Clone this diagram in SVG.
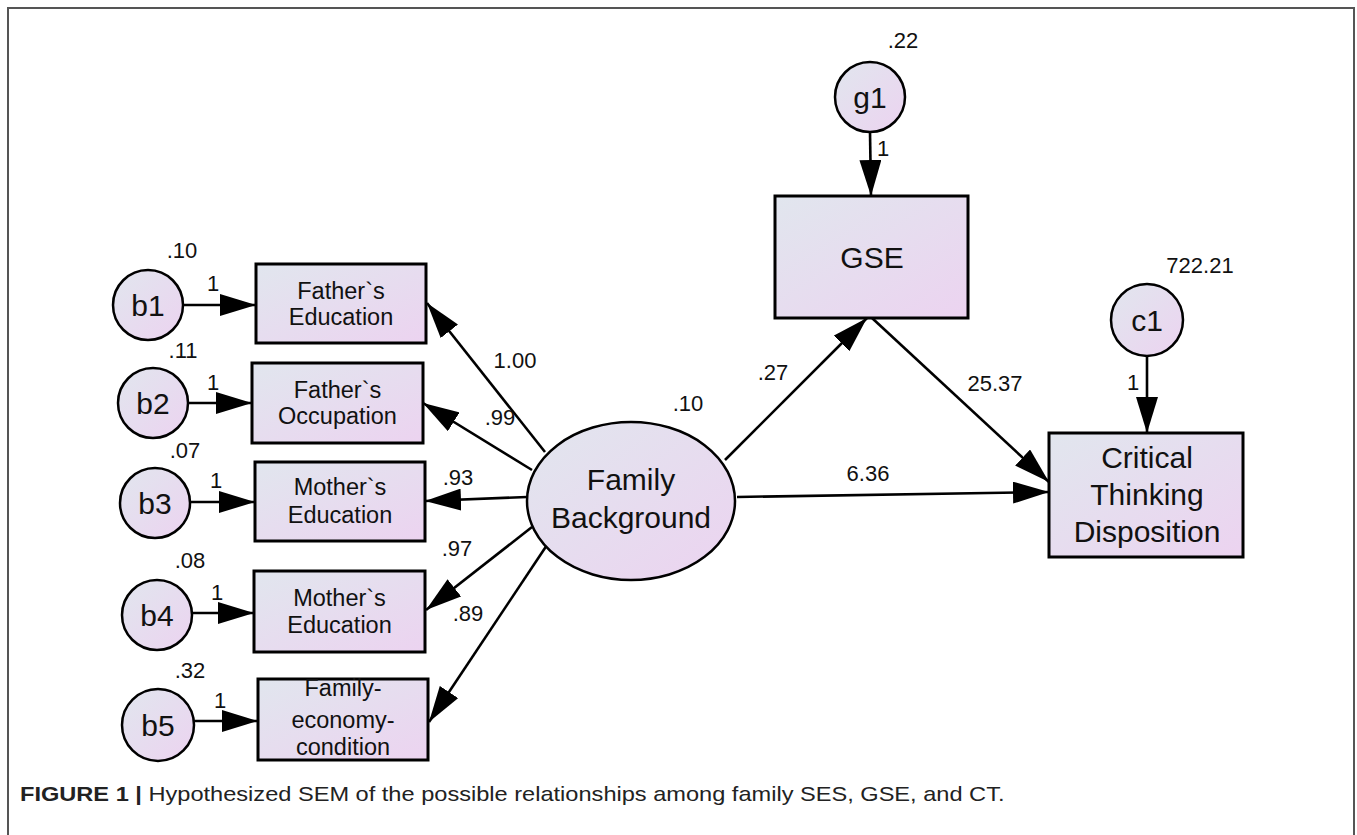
<svg xmlns="http://www.w3.org/2000/svg" width="1357" height="835" viewBox="0 0 1357 835">
<defs>
<linearGradient id="fillg" x1="0" y1="0" x2="1" y2="1">
<stop offset="0" stop-color="#e1e6ee"/>
<stop offset="1" stop-color="#ecd3f0"/>
</linearGradient>
<marker id="arr" markerUnits="userSpaceOnUse" markerWidth="37" markerHeight="22" refX="36" refY="11" orient="auto" viewBox="0 0 37 22">
<path d="M0,0 L36,11 L0,22 Z" fill="#000"/>
</marker>
<style>
.box{fill:url(#fillg);stroke:#000;stroke-width:3}
.circ{fill:url(#fillg);stroke:#000;stroke-width:2.5}
.lbl{font-family:"Liberation Sans",Arial,sans-serif;fill:#111;text-anchor:middle}
.small{font-size:23.5px}
.big{font-size:30px}
.cl{font-size:30px}
.num{font-family:"Liberation Sans",Arial,sans-serif;font-size:22px;fill:#111;text-anchor:middle}
.edge{stroke:#000;stroke-width:2.6;fill:none;marker-end:url(#arr)}
.cap{font-family:"Liberation Sans",Arial,sans-serif;font-size:20px;fill:#222}
</style>
</defs>
<rect width="1357" height="835" fill="#fff"/>
<path d="M8,835 V8 H1354 V835" fill="none" stroke="#555" stroke-width="2"/>

<g id="connectors">
<line class="edge" x1="183" y1="305" x2="256" y2="305"/>
<line class="edge" x1="188" y1="403" x2="252" y2="403"/>
<line class="edge" x1="190" y1="502" x2="255" y2="502"/>
<line class="edge" x1="192" y1="613" x2="254" y2="613"/>
<line class="edge" x1="194" y1="721" x2="258" y2="721"/>
<line class="edge" x1="545" y1="452" x2="427" y2="303"/>
<line class="edge" x1="532" y1="470" x2="423" y2="403"/>
<line class="edge" x1="527" y1="497" x2="425" y2="501"/>
<line class="edge" x1="532" y1="527" x2="426" y2="610"/>
<line class="edge" x1="547" y1="545" x2="429" y2="722"/>
<line class="edge" x1="725" y1="460" x2="867" y2="318"/>
<line class="edge" x1="872" y1="318" x2="1049" y2="482"/>
<line class="edge" x1="737" y1="497" x2="1049" y2="492"/>
<line class="edge" x1="870" y1="132" x2="871" y2="196"/>
<line class="edge" x1="1147" y1="356" x2="1147" y2="433"/>
</g>

<g id="b1"><circle class="circ" cx="148" cy="305" r="35"/><text class="lbl cl" x="148" y="316">b1</text></g>
<g id="b2"><circle class="circ" cx="153" cy="403" r="35"/><text class="lbl cl" x="153" y="414">b2</text></g>
<g id="b3"><circle class="circ" cx="155" cy="503" r="35"/><text class="lbl cl" x="155" y="514">b3</text></g>
<g id="b4"><circle class="circ" cx="157" cy="615" r="35"/><text class="lbl cl" x="157" y="626">b4</text></g>
<g id="b5"><circle class="circ" cx="158" cy="725" r="36"/><text class="lbl cl" x="158" y="736">b5</text></g>

<g id="fathers-education"><rect class="box" x="256" y="264" width="170" height="79"/>
<text class="lbl small" x="341" y="299">Father`s</text><text class="lbl small" x="341" y="325">Education</text></g>
<g id="fathers-occupation"><rect class="box" x="252" y="363" width="171" height="80"/>
<text class="lbl small" x="337.5" y="398">Father`s</text><text class="lbl small" x="337.5" y="424">Occupation</text></g>
<g id="mothers-education-1"><rect class="box" x="255" y="462" width="170" height="79"/>
<text class="lbl small" x="340" y="495">Mother`s</text><text class="lbl small" x="340" y="523">Education</text></g>
<g id="mothers-education-2"><rect class="box" x="254" y="571" width="171" height="81"/>
<text class="lbl small" x="339.5" y="606">Mother`s</text><text class="lbl small" x="339.5" y="633">Education</text></g>
<g id="family-economy"><rect class="box" x="258" y="679" width="170" height="81"/>
<text class="lbl small" x="343" y="696">Family-</text><text class="lbl small" x="343" y="728">economy-</text><text class="lbl small" x="343" y="755">condition</text></g>

<g id="family-background"><ellipse class="circ" cx="631" cy="501" rx="104" ry="79"/>
<text class="lbl big" x="631" y="490">Family</text><text class="lbl big" x="631" y="528">Background</text></g>

<g id="g1"><circle class="circ" cx="870" cy="97" r="35"/><text class="lbl cl" x="870" y="108">g1</text></g>
<g id="gse"><rect class="box" x="775" y="196" width="193" height="122"/><text class="lbl big" x="872" y="268">GSE</text></g>

<g id="c1"><circle class="circ" cx="1147" cy="320" r="36"/><text class="lbl cl" x="1147" y="331">c1</text></g>
<g id="ctd"><rect class="box" x="1049" y="433" width="194" height="124"/>
<text class="lbl big" x="1147" y="468">Critical</text><text class="lbl big" x="1147" y="505">Thinking</text><text class="lbl big" x="1147" y="542">Disposition</text></g>

<g id="labels">
<text class="num" x="182" y="258">.10</text>
<text class="num" x="183" y="358">.11</text>
<text class="num" x="185" y="458">.07</text>
<text class="num" x="190" y="568">.08</text>
<text class="num" x="190" y="678">.32</text>
<text class="num" x="213" y="291">1</text>
<text class="num" x="213" y="390">1</text>
<text class="num" x="216" y="488">1</text>
<text class="num" x="217" y="600">1</text>
<text class="num" x="220" y="708">1</text>
<text class="num" x="515" y="368">1.00</text>
<text class="num" x="500" y="425">.99</text>
<text class="num" x="458" y="485">.93</text>
<text class="num" x="457" y="556">.97</text>
<text class="num" x="468" y="621">.89</text>
<text class="num" x="688" y="411">.10</text>
<text class="num" x="773" y="380">.27</text>
<text class="num" x="995" y="391">25.37</text>
<text class="num" x="868" y="481">6.36</text>
<text class="num" x="903" y="48">.22</text>
<text class="num" x="883" y="156">1</text>
<text class="num" x="1200" y="273">722.21</text>
<text class="num" x="1133" y="390">1</text>
</g>

<text class="cap" transform="translate(20,801) scale(1.18,1)"><tspan font-weight="bold">FIGURE 1 |</tspan> Hypothesized SEM of the possible relationships among family SES, GSE, and CT.</text>
</svg>
